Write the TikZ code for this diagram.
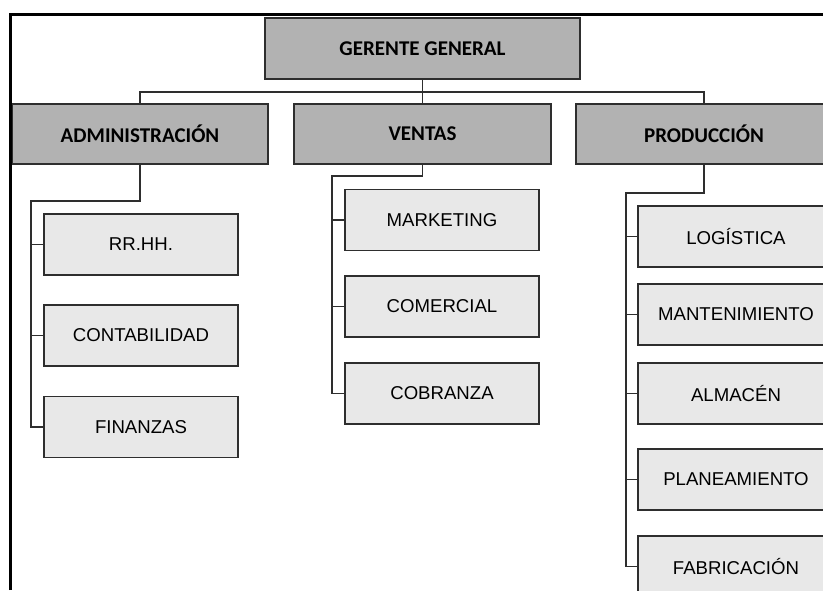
\documentclass[tikz,border=0pt]{standalone}
\usepackage{fontspec}
\setmainfont{Liberation Sans}
\newfontfamily\carl{Carlito}
\definecolor{boxdark}{HTML}{B2B2B2}
\definecolor{boxlight}{HTML}{E8E8E8}
\definecolor{edge}{HTML}{2E2E2E}
\tikzset{
  lvltop/.style={draw=edge, line width=1.8pt, fill=boxdark, inner sep=0pt,
    minimum height=60pt, font=\carl\bfseries\fontsize{21}{23}\selectfont},
  lvlsub/.style={draw=edge, line width=1.8pt, fill=boxlight, inner sep=0pt,
    minimum width=194pt, minimum height=61pt, font=\fontsize{18.6}{20}\selectfont},
  wire/.style={draw=edge, line width=1.8pt},
  frameline/.style={draw=black, line width=3pt}
}
\begin{document}
\begin{tikzpicture}[x=1pt,y=-1pt]
\useasboundingbox (0,0) rectangle (823,590);
\clip (0,0) rectangle (823,590);
\fill[white] (0,0) rectangle (823,590);

% level 1 and 2
\node[lvltop, minimum width=315pt, minimum height=61pt] (gg) at (422.5,48.5) {GERENTE GENERAL};
\node[lvltop, minimum width=256pt] (adm) at (140,134) {ADMINISTRACIÓN};
\node[lvltop, minimum width=257pt] (ven) at (422.5,134) {VENTAS};
\node[lvltop, minimum width=256pt] (pro) at (704,134) {PRODUCCIÓN};

% level 3
\node[lvlsub] (rrhh) at (141,244.5) {RR.HH.};
\node[lvlsub] (cont) at (141,335.5) {CONTABILIDAD};
\node[lvlsub] (fin)  at (141,427) {FINANZAS};

\node[lvlsub] (mkt) at (442,220) {MARKETING};
\node[lvlsub] (com) at (442,306.5) {COMERCIAL};
\node[lvlsub] (cob) at (442,393.5) {COBRANZA};

\node[lvlsub, minimum width=196pt] (log) at (736,236.5) {LOGÍSTICA};
\node[lvlsub, minimum width=196pt] (man) at (736,314.5) {MANTENIMIENTO};
\node[lvlsub, minimum width=196pt] (alm) at (736,393.5) {ALMACÉN};
\node[lvlsub, minimum width=196pt] (pla) at (736,479.5) {PLANEAMIENTO};
\node[lvlsub, minimum width=196pt] (fab) at (736,566.5) {FABRICACIÓN};

% connector helper points
\coordinate (bus) at (422.5,92);
\coordinate (admt) at (31,201);
\coordinate (vent) at (332,176);
\coordinate (prot) at (626,193);

% top connectors
\draw[wire] (gg.south) -- (ven.north);
\draw[wire] (adm.north) -- (adm.north |- bus) -- (pro.north |- bus) -- (pro.north);

% administracion
\draw[wire] (adm.south) |- (admt) |- (fin.west);
\draw[wire] (admt |- rrhh.west) -- (rrhh.west);
\draw[wire] (admt |- cont.west) -- (cont.west);

% ventas
\draw[wire] (ven.south) |- (vent) |- (cob.west);
\draw[wire] (vent |- mkt.west) -- (mkt.west);
\draw[wire] (vent |- com.west) -- (com.west);

% produccion
\draw[wire] (pro.south) |- (prot) |- (fab.west);
\draw[wire] (prot |- log.west) -- (log.west);
\draw[wire] (prot |- man.west) -- (man.west);
\draw[wire] (prot |- alm.west) -- (alm.west);
\draw[wire] (prot |- pla.west) -- (pla.west);

% outer frame
\draw[frameline] (10.5,590) -- (10.5,14.5) -- (823,14.5);
\end{tikzpicture}
\end{document}
